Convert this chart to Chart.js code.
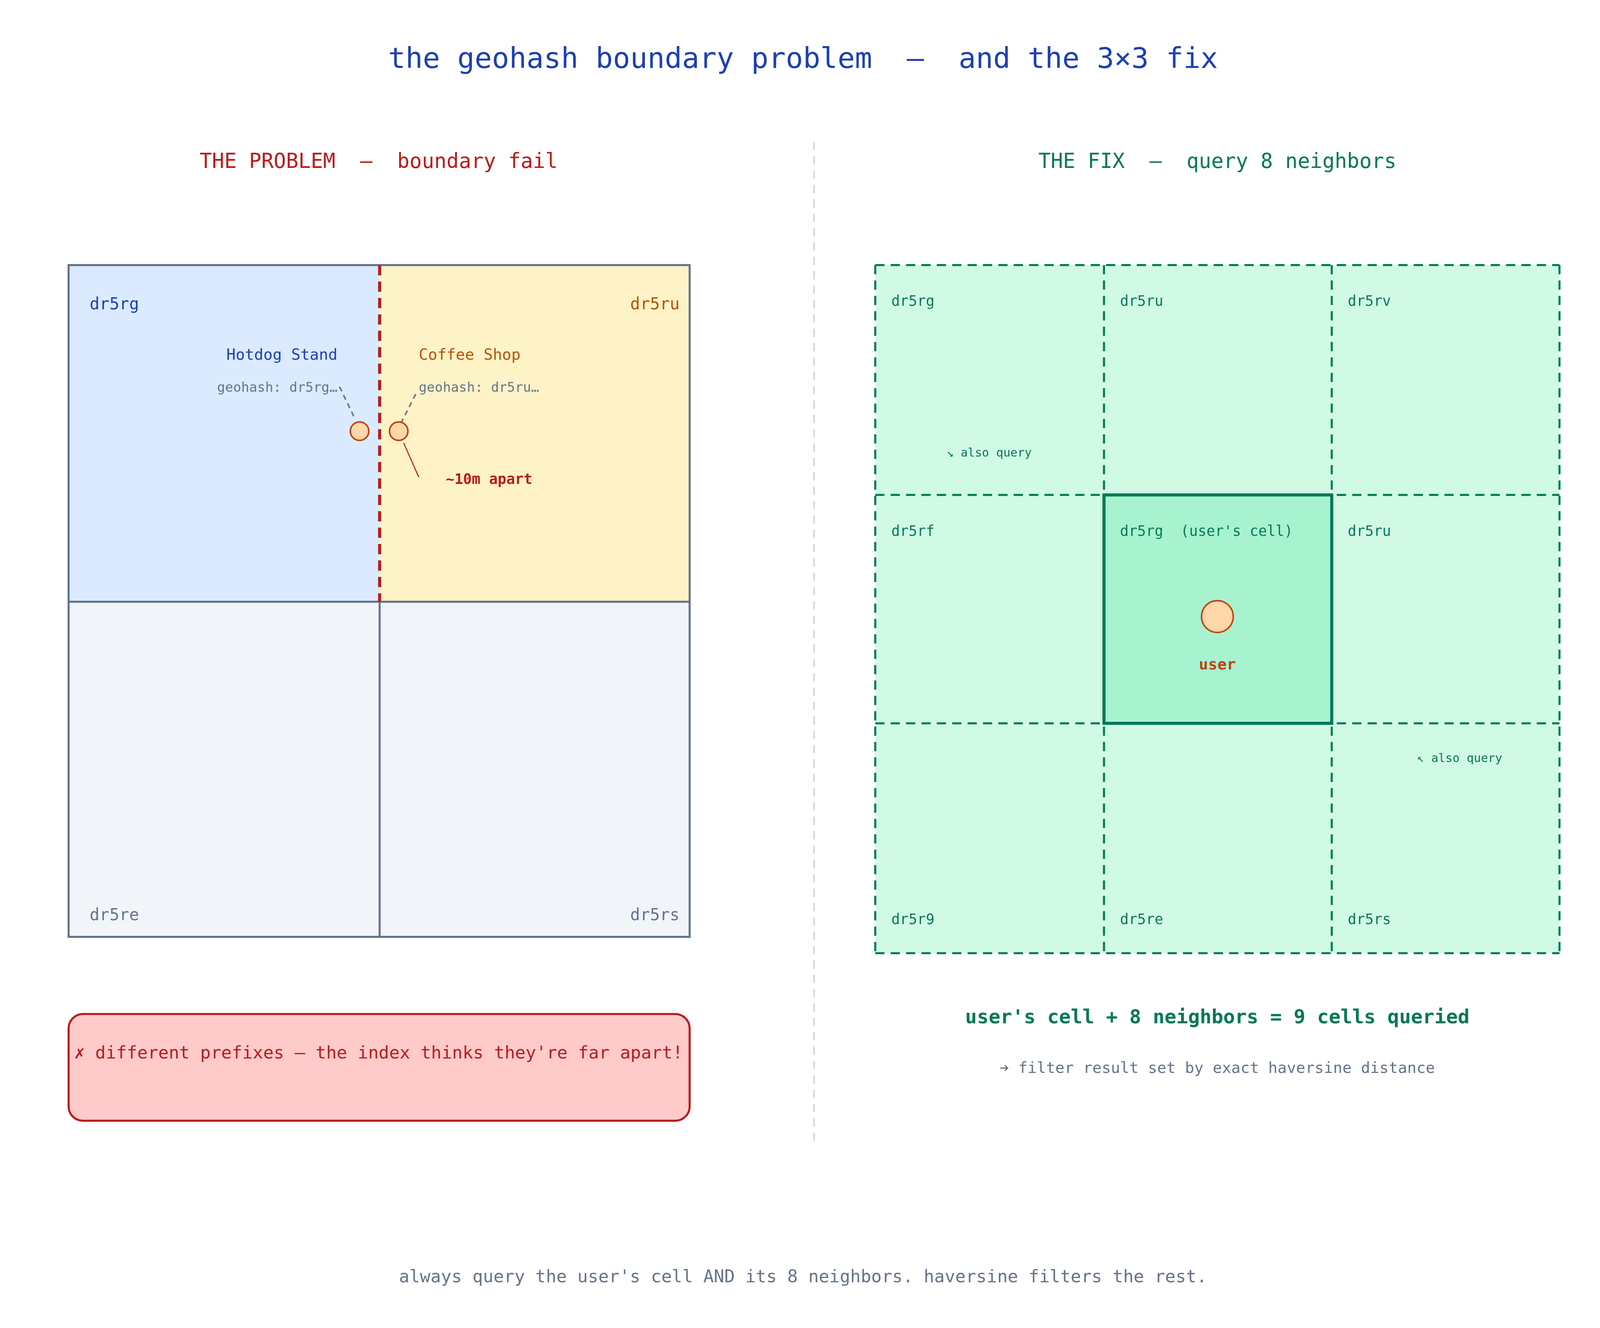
<!DOCTYPE html>
<html lang="en">
<head>
<meta charset="UTF-8">
<title>geohash boundary problem</title>
<script src="https://cdn.jsdelivr.net/npm/chart.js@4"></script>
<style>
html,body{margin:0;padding:0;background:#fff;overflow:hidden}
#wrap{position:relative;width:100vw;height:100vh}
</style>
</head>
<body>
<div id="wrap"><canvas id="c"></canvas></div>
<script>
// diagram space: 1560 x 872 units
const leftCols = [51, 361, 670];
const leftRows = [167, 394, 620];
const leftNames = ['dr5rg', 'dr5ru', 'dr5re', 'dr5rs'];
const rightCols = [855, 1083, 1310, 1537];
const rightRows = [167, 322, 476, 631];
const rightNames = ['dr5rg', 'dr5ru', 'dr5rv', 'dr5rf', 'dr5rg  (user\'s cell)', 'dr5ru', 'dr5r9', 'dr5re', 'dr5rs'];
const places = [
  { name: 'Hotdog Stand', hash: 'geohash: dr5rg…', x: 341, y: 279 },
  { name: 'Coffee Shop', hash: 'geohash: dr5ru…', x: 380, y: 279 }
];
const userPoint = { x: 1196, y: 404 };

const MONO = '"DejaVu Sans Mono", "Liberation Mono", monospace';
const unit = chart => chart.width / 1560;

const diagram = {
  id: 'diagram',
  beforeDatasetsDraw(chart) {
    const ctx = chart.ctx, xs = chart.scales.x, ys = chart.scales.y, S = unit(chart);
    const X = v => xs.getPixelForValue(v), Y = v => ys.getPixelForValue(v);
    ctx.save();
    // left grid
    const lf = ['#dbeafe', '#fef3c7', '#f1f5f9', '#f1f5f9'];
    for (let r = 0; r < 2; r++) for (let c = 0; c < 2; c++) {
      ctx.fillStyle = lf[r * 2 + c];
      ctx.fillRect(X(leftCols[c]), Y(leftRows[r]), X(leftCols[c + 1]) - X(leftCols[c]), Y(leftRows[r + 1]) - Y(leftRows[r]));
    }
    ctx.strokeStyle = '#64748b'; ctx.lineWidth = 2 * S;
    ctx.strokeRect(X(leftCols[0]), Y(leftRows[0]), X(leftCols[2]) - X(leftCols[0]), Y(leftRows[2]) - Y(leftRows[0]));
    ctx.beginPath();
    ctx.moveTo(X(leftCols[0]), Y(leftRows[1])); ctx.lineTo(X(leftCols[2]), Y(leftRows[1]));
    ctx.moveTo(X(leftCols[1]), Y(leftRows[1])); ctx.lineTo(X(leftCols[1]), Y(leftRows[2]));
    ctx.stroke();
    ctx.strokeStyle = '#b91c1c'; ctx.lineWidth = 3 * S; ctx.setLineDash([10 * S, 6 * S]);
    ctx.beginPath(); ctx.moveTo(X(leftCols[1]), Y(leftRows[0])); ctx.lineTo(X(leftCols[1]), Y(leftRows[1])); ctx.stroke();
    ctx.setLineDash([]);
    ctx.lineWidth = 1 * S;
    ctx.beginPath(); ctx.moveTo(X(385), Y(287)); ctx.lineTo(X(400), Y(310)); ctx.stroke();
    ctx.strokeStyle = '#64748b'; ctx.lineWidth = 1.5 * S; ctx.setLineDash([5 * S, 4 * S]);
    ctx.beginPath();
    ctx.moveTo(X(321), Y(249)); ctx.lineTo(X(336), Y(270));
    ctx.moveTo(X(397), Y(254)); ctx.lineTo(X(382), Y(274));
    ctx.stroke();
    ctx.setLineDash([]);

    // warning box
    ctx.fillStyle = '#fecaca'; ctx.strokeStyle = '#b91c1c'; ctx.lineWidth = 2 * S;
    ctx.beginPath(); ctx.roundRect(X(51), Y(672), X(670) - X(51), Y(744) - Y(672), 14 * S); ctx.fill(); ctx.stroke();

    // divider
    ctx.strokeStyle = '#d1d5db'; ctx.lineWidth = 1.5 * S; ctx.setLineDash([8 * S, 6 * S]);
    ctx.beginPath(); ctx.moveTo(X(794), Y(84)); ctx.lineTo(X(794), Y(760)); ctx.stroke();

    // right grid
    for (let r = 0; r < 3; r++) for (let c = 0; c < 3; c++) {
      ctx.fillStyle = (r === 1 && c === 1) ? '#a7f3d0' : '#d1fae5';
      ctx.fillRect(X(rightCols[c]), Y(rightRows[r]), X(rightCols[c + 1]) - X(rightCols[c]), Y(rightRows[r + 1]) - Y(rightRows[r]));
    }
    ctx.strokeStyle = '#047857'; ctx.lineWidth = 2 * S; ctx.setLineDash([9 * S, 6 * S]);
    ctx.beginPath();
    rightCols.forEach(c => { ctx.moveTo(X(c), Y(rightRows[0])); ctx.lineTo(X(c), Y(rightRows[3])); });
    rightRows.forEach(r => { ctx.moveTo(X(rightCols[0]), Y(r)); ctx.lineTo(X(rightCols[3]), Y(r)); });
    ctx.stroke();
    ctx.setLineDash([]); ctx.lineWidth = 3 * S;
    ctx.strokeRect(X(rightCols[1]), Y(rightRows[1]), X(rightCols[2]) - X(rightCols[1]), Y(rightRows[2]) - Y(rightRows[1]));
    ctx.restore();
  },
  afterDatasetsDraw(chart) {
    const ctx = chart.ctx, xs = chart.scales.x, ys = chart.scales.y, S = unit(chart);
    const X = v => xs.getPixelForValue(v), Y = v => ys.getPixelForValue(v);
    const txt = (s, x, y, size, color, align, bold) => {
      ctx.font = (bold ? 'bold ' : '') + (size * S) + 'px ' + MONO;
      ctx.fillStyle = color; ctx.textAlign = align || 'left'; ctx.textBaseline = 'middle';
      ctx.fillText(s, X(x), Y(y));
    };
    ctx.save();
    txt('the geohash boundary problem  —  and the 3×3 fix', 783, 29, 28, '#1e40af', 'center');
    txt('THE PROBLEM  —  boundary fail', 360, 98, 20, '#b91c1c', 'center');
    txt('THE FIX  —  query 8 neighbors', 1196, 98, 20, '#047857', 'center');

    txt(leftNames[0], 72, 194, 16, '#1e40af', 'left');
    txt(leftNames[1], 660, 194, 16, '#b45309', 'right');
    txt(leftNames[2], 72, 606, 16, '#64748b', 'left');
    txt(leftNames[3], 660, 606, 16, '#64748b', 'right');
    txt(places[0].name, 319, 228, 15, '#1e40af', 'right');
    txt(places[0].hash, 319, 250, 13, '#64748b', 'right');
    txt(places[1].name, 400, 228, 15, '#b45309', 'left');
    txt(places[1].hash, 400, 250, 13, '#64748b', 'left');
    txt('~10m apart', 427, 312, 14, '#b91c1c', 'left', true);
    txt('✗ different prefixes — the index thinks they\'re far apart!', 360, 699, 17, '#b91c1c', 'center');

    rightNames.forEach((n, i) => {
      const r = Math.floor(i / 3), c = i % 3;
      const y = r === 2 ? rightRows[3] - 22 : rightRows[r] + 25;
      txt(n, rightCols[c] + 16, y, 14, '#047857', 'left');
    });
    txt('↘ also query', 926, 294, 11.5, '#047857', 'left');
    txt('↖ also query', 1395, 500, 11.5, '#047857', 'left');
    txt('user', 1196, 437, 15, '#c2410c', 'center', true);
    txt('user\'s cell + 8 neighbors = 9 cells queried', 1196, 675, 19, '#047857', 'center', true);
    txt('➔ filter result set by exact haversine distance', 1196, 709, 15, '#64748b', 'center');
    txt('always query the user\'s cell AND its 8 neighbors. haversine filters the rest.', 783, 850, 17, '#64748b', 'center');
    ctx.restore();
  }
};

new Chart(document.getElementById('c'), {
  type: 'scatter',
  data: {
    datasets: [
      { data: places.map(p => ({ x: p.x, y: p.y })) },
      { data: [userPoint] }
    ]
  },
  options: {
    responsive: true, maintainAspectRatio: false, animation: false,
    layout: { padding: 0 },
    elements: {
      point: {
        radius: c => (c.datasetIndex === 1 ? 15.5 : 9) * unit(c.chart),
        backgroundColor: '#fed7aa', borderColor: '#c2410c',
        borderWidth: c => 1.5 * unit(c.chart)
      }
    },
    plugins: { legend: { display: false }, tooltip: { enabled: false } },
    scales: {
      x: { type: 'linear', min: 0, max: 1560, display: false },
      y: { type: 'linear', min: 0, max: 872, reverse: true, display: false }
    }
  },
  plugins: [diagram]
});
</script>
</body>
</html>
